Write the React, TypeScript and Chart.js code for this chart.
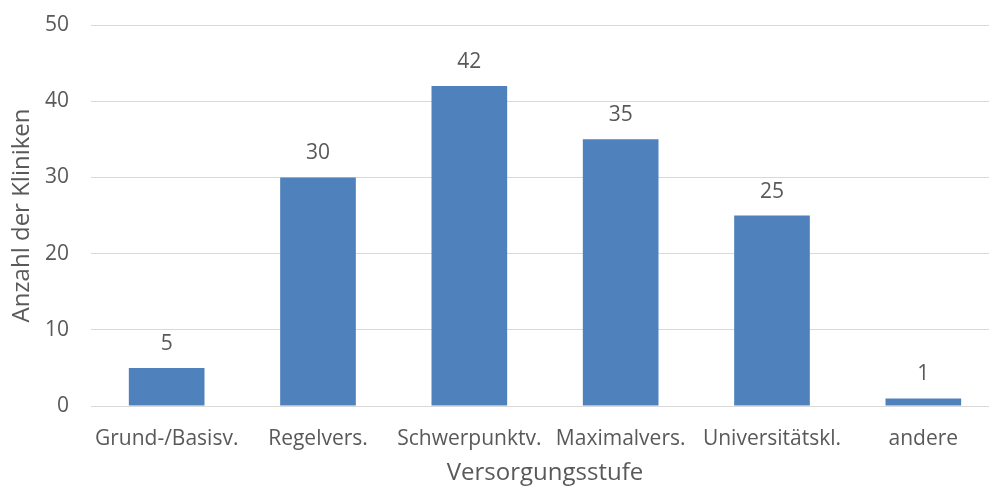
import React, { useEffect, useRef } from "react";
import { Chart, registerables } from "chart.js";

Chart.register(...registerables);

const categories = [
  "Grund-/Basisv.",
  "Regelvers.",
  "Schwerpunktv.",
  "Maximalvers.",
  "Universitätskl.",
  "andere",
];
const clinicCounts = [5, 30, 42, 35, 25, 1];
const yTicks = [0, 10, 20, 30, 40, 50];

const FONT = "'Open Sans', 'Liberation Sans', sans-serif";
const TEXT = "#595959";

// Writes each bar's value centred above it
const valueLabels = {
  id: "valueLabels",
  afterDatasetsDraw(chart: any) {
    const ctx = chart.ctx;
    const meta = chart.getDatasetMeta(0);
    ctx.save();
    ctx.font = `21px ${FONT}`;
    ctx.fillStyle = TEXT;
    ctx.textAlign = "center";
    ctx.textBaseline = "alphabetic";
    meta.data.forEach((bar: any, i: number) => {
      const v = chart.data.datasets[0].data[i];
      ctx.fillText(String(v), bar.x, bar.y - 18);
    });
    ctx.restore();
  },
};

export default function App() {
  const ref = useRef<HTMLCanvasElement | null>(null);

  useEffect(() => {
    if (!ref.current) return;
    const chart = new Chart(ref.current, {
      type: "bar",
      data: {
        labels: categories,
        datasets: [
          {
            data: clinicCounts,
            backgroundColor: "#4F81BD",
            barPercentage: 0.5,
            categoryPercentage: 1,
          },
        ],
      },
      options: {
        animation: false,
        responsive: false,
        layout: { padding: { top: 25, right: 1, left: 0, bottom: 0 } },
        plugins: {
          legend: { display: false },
          tooltip: { enabled: false },
        },
        scales: {
          x: {
            afterFit: (axis: any) => {
              axis.height = 82;
            },
            grid: { display: false, drawTicks: false },
            border: { color: "#d9d9d9", width: 1 },
            ticks: {
              color: TEXT,
              font: { family: FONT, size: 21 },
              padding: 20,
              maxRotation: 0,
              autoSkip: false,
            },
            title: {
              display: true,
              text: "Versorgungsstufe",
              color: TEXT,
              font: { family: FONT, size: 24 },
              padding: { top: 0, bottom: 0 },
            },
          },
          y: {
            min: 0,
            max: 50,
            afterFit: (axis: any) => {
              axis.width = 91;
              axis.paddingTop = 0;
              axis.paddingBottom = 0;
            },
            afterBuildTicks: (axis: any) => {
              axis.ticks = yTicks.map((v) => ({ value: v }));
            },
            grid: { color: "#d9d9d9", lineWidth: 1, drawTicks: false },
            border: { display: false },
            ticks: {
              color: TEXT,
              font: { family: FONT, size: 21 },
              padding: 22,
            },
            title: {
              display: true,
              text: "Anzahl der Kliniken",
              color: TEXT,
              font: { family: FONT, size: 24 },
              padding: { top: 8, bottom: 0 },
            },
          },
        },
      },
      plugins: [valueLabels],
    });
    return () => chart.destroy();
  }, []);

  // The plot runs slightly past the right edge of the visible frame
  return (
    <div
      style={{
        position: "fixed",
        left: 0,
        top: 0,
        width: 989,
        height: 488,
        overflow: "hidden",
        background: "#fff",
      }}
    >
      <canvas ref={ref} width={1000} height={488} style={{ display: "block" }} />
    </div>
  );
}
